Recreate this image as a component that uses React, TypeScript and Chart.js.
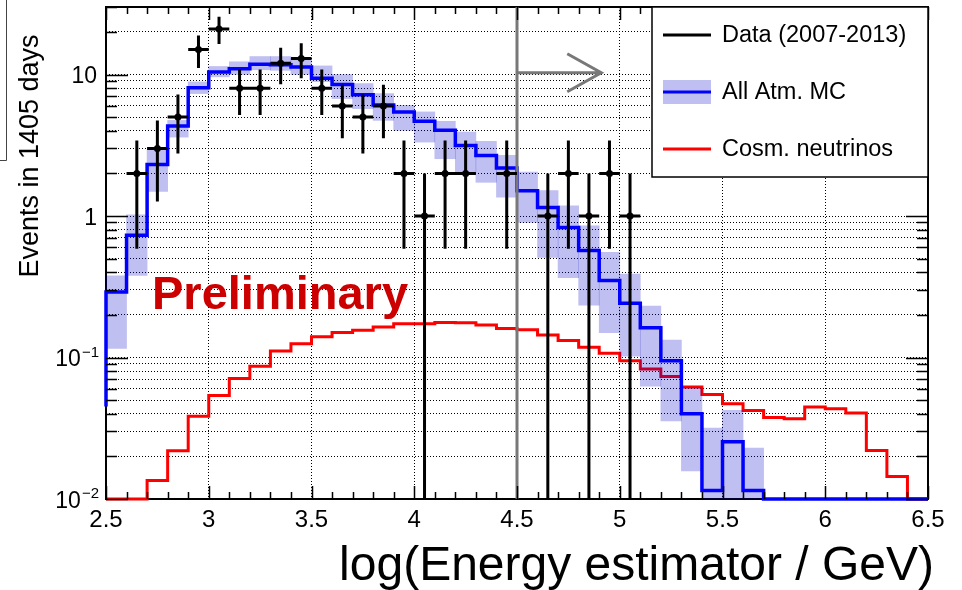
import React, { useEffect, useRef } from 'react';
import { Chart, registerables } from 'chart.js';

Chart.register(...registerables);

// ---------- data ----------
const binEdges = [
  2.5, 2.6, 2.7, 2.8, 2.9, 3.0, 3.1, 3.2, 3.3, 3.4,
  3.5, 3.6, 3.7, 3.8, 3.9, 4.0, 4.1, 4.2, 4.3, 4.4,
  4.5, 4.6, 4.7, 4.8, 4.9, 5.0, 5.1, 5.2, 5.3, 5.4,
  5.5, 5.6, 5.7, 5.8, 5.9, 6.0, 6.1, 6.2, 6.3, 6.4, 6.5,
];

const mcStartValue = 0.045;
const mcAtm = [
  0.29, 0.73, 2.31, 4.33, 8.05, 10.4, 11.0, 11.8, 11.7, 11.3,
  9.4, 8.5, 7.2, 6.1, 5.44, 4.67, 4.03, 3.15, 2.68, 2.18,
  1.51, 1.15, 0.83, 0.57, 0.35, 0.242, 0.162, 0.095, 0.04, 0.0115,
  0.0254, 0.0115, 0.01, 0.01, 0.01, 0.01, 0.01, 0.01, 0.01, 0.01,
];
const mcAtmLow = [
  0.116, 0.38, 1.49, 3.61, 7.33, 9.63, 10.0, 10.8, 10.7, 10.0,
  8.9, 6.76, 5.74, 4.74, 4.03, 3.33, 2.54, 2.04, 1.73, 1.36,
  0.9, 0.51, 0.367, 0.234, 0.15, 0.102, 0.0626, 0.0357, 0.0158, 0.01,
  0.01, 0.01, null, null, null, null, null, null, null, null,
];
const mcAtmHigh = [
  0.378, 1.02, 2.94, 4.74, 8.87, 11.4, 12.3, 13.4, 13.4, 13.0,
  11.5, 10.0, 8.63, 7.33, 6.06, 5.44, 4.67, 3.92, 3.37, 2.68,
  2.04, 1.51, 1.18, 0.853, 0.553, 0.388, 0.231, 0.133, 0.061, 0.0317,
  0.0423, 0.0229, null, null, null, null, null, null, null, null,
];
const cosmic = [
  0.01, 0.01, 0.0135, 0.0219, 0.0384, 0.0538, 0.071, 0.0867, 0.111, 0.125,
  0.14, 0.15, 0.156, 0.164, 0.173, 0.173, 0.177, 0.176, 0.17, 0.16,
  0.157, 0.144, 0.132, 0.118, 0.107, 0.095, 0.083, 0.0733, 0.062, 0.0547,
  0.0472, 0.0423, 0.0377, 0.0369, 0.0447, 0.0435, 0.0405, 0.022, 0.0144, 0.01,
];

const dataCenters = [
  2.65, 2.75, 2.85, 2.95, 3.05, 3.15, 3.25, 3.35, 3.45, 3.55, 3.65, 3.75,
  3.85, 3.95, 4.05, 4.15, 4.25, 4.45, 4.65, 4.75, 4.85, 4.95, 5.05,
];
const dataCounts = [
  2, 3, 5, 15, 21, 8, 8, 12, 13, 8, 6, 5,
  6, 2, 1, 2, 2, 2, 1, 2, 1, 2, 1,
];
const dataHalfWidth = 0.05;

const xTickValues = [2.5, 3, 3.5, 4, 4.5, 5, 5.5, 6, 6.5];
const xTickLabels = ['2.5', '3', '3.5', '4', '4.5', '5', '5.5', '6', '6.5'];
const yTickValues = [0.01, 0.1, 1, 10];
const yTickBases = ['10', '10', '1', '10'];
const yTickExps = ['\u22122', '\u22121', '', ''];
const yGridValues = [
  0.01, 0.02, 0.03, 0.04, 0.05, 0.06, 0.07, 0.08, 0.09,
  0.1, 0.2, 0.3, 0.4, 0.5, 0.6, 0.7, 0.8, 0.9,
  1, 2, 3, 4, 5, 6, 7, 8, 9,
  10, 20, 30,
];

const legendLabels = ['Data (2007-2013)', 'All Atm. MC', 'Cosm. neutrinos'];
const xTitle = 'log(Energy estimator / GeV)';
const yTitle = 'Events in 1405 days';
const stampText = 'Preliminary';
const cutValue = 4.5;
const arrowEnd = 4.91;
const arrowY = 10.3;

const FONT = "'Liberation Sans', Arial, Helvetica, sans-serif";
const BAND = 'rgba(0,0,200,0.25)';

const stepPoints = (vals: number[]) => {
  const pts = vals.map((v, i) => ({ x: binEdges[i], y: v }));
  pts.push({ x: binEdges[binEdges.length - 1], y: vals[vals.length - 1] });
  return pts;
};

const near = (a: number, b: number) => Math.abs(a - b) < 1e-9 * Math.max(1, Math.abs(b));

const decor = {
  id: 'decor',
  beforeDraw(chart: any) {
    const { ctx } = chart;
    ctx.save();
    ctx.fillStyle = '#fff';
    ctx.fillRect(0, 0, chart.width, chart.height);
    ctx.restore();
  },
  beforeDatasetsDraw(chart: any) {
    const { ctx, chartArea: ca } = chart;
    ctx.save();
    ctx.strokeStyle = '#000';
    ctx.lineWidth = 2;
    ctx.strokeRect(ca.left, ca.top, ca.right - ca.left, ca.bottom - ca.top);
    ctx.restore();
  },
  afterDatasetsDraw(chart: any) {
    const { ctx, chartArea: ca, scales } = chart;
    const x = scales.x;
    const y = scales.y;
    ctx.save();
    ctx.beginPath();
    ctx.rect(ca.left, ca.top, ca.right - ca.left, ca.bottom - ca.top);
    ctx.clip();
    // cut line + arrow
    ctx.strokeStyle = '#787878';
    ctx.lineWidth = 3;
    const xc = x.getPixelForValue(cutValue);
    ctx.beginPath();
    ctx.moveTo(xc, ca.top);
    ctx.lineTo(xc, ca.bottom);
    const ay = y.getPixelForValue(arrowY);
    const ax = x.getPixelForValue(arrowEnd);
    ctx.moveTo(xc, ay);
    ctx.lineTo(ax, ay);
    ctx.moveTo(ax - 34, ay - 19);
    ctx.lineTo(ax, ay);
    ctx.lineTo(ax - 34, ay + 19);
    ctx.stroke();
    // data error bars
    ctx.strokeStyle = '#000';
    ctx.lineWidth = 3;
    ctx.beginPath();
    dataCenters.forEach((c, i) => {
      const n = dataCounts[i];
      const e = Math.sqrt(n);
      const px = x.getPixelForValue(c);
      const py = y.getPixelForValue(n);
      const top = y.getPixelForValue(n + e);
      const bot = n - e > y.min ? y.getPixelForValue(n - e) : ca.bottom;
      ctx.moveTo(px, top);
      ctx.lineTo(px, bot);
      ctx.moveTo(x.getPixelForValue(c - dataHalfWidth), py);
      ctx.lineTo(x.getPixelForValue(c + dataHalfWidth), py);
    });
    ctx.stroke();
    // stamp
    ctx.fillStyle = '#cc0000';
    ctx.font = `bold 47px ${FONT}`;
    ctx.textAlign = 'left';
    ctx.textBaseline = 'alphabetic';
    ctx.fillText(stampText, 152, 309);
    ctx.restore();
  },
  afterDraw(chart: any) {
    const { ctx, chartArea: ca, scales } = chart;
    const x = scales.x;
    const y = scales.y;
    ctx.save();
    // inside ticks
    ctx.strokeStyle = '#000';
    ctx.lineWidth = 1.5;
    ctx.beginPath();
    binEdges.forEach((v) => {
      const major = xTickValues.some((t) => near(t, v));
      const len = major ? 13 : 7;
      const px = Math.round(x.getPixelForValue(v)) + 0.5;
      ctx.moveTo(px, ca.bottom);
      ctx.lineTo(px, ca.bottom - len);
      ctx.moveTo(px, ca.top);
      ctx.lineTo(px, ca.top + len);
    });
    yGridValues.forEach((v) => {
      const major = yTickValues.some((t) => near(t, v));
      const len = major ? 22 : 11;
      const py = Math.round(y.getPixelForValue(v)) + 0.5;
      ctx.moveTo(ca.left, py);
      ctx.lineTo(ca.left + len, py);
      ctx.moveTo(ca.right, py);
      ctx.lineTo(ca.right - len, py);
    });
    ctx.stroke();

    // y tick labels with superscript exponents
    ctx.fillStyle = '#000';
    ctx.textBaseline = 'alphabetic';
    ctx.textAlign = 'right';
    yTickValues.forEach((v, i) => {
      const py = y.getPixelForValue(v);
      const exp = yTickExps[i];
      if (exp) {
        ctx.font = `15px ${FONT}`;
        const ew = ctx.measureText(exp).width;
        ctx.fillText(exp, 99, py - 1);
        ctx.font = `23px ${FONT}`;
        ctx.fillText(yTickBases[i], 99 - ew - 1, py + 8.5);
      } else {
        ctx.font = `23px ${FONT}`;
        ctx.fillText(yTickBases[i], 97, py + 8.5);
      }
    });

    // legend
    const lx0 = 652, ly0 = ca.top, lx1 = ca.right, ly1 = 177;
    ctx.fillStyle = '#fff';
    ctx.fillRect(lx0, ly0, lx1 - lx0, ly1 - ly0);
    ctx.lineWidth = 1.5;
    ctx.strokeStyle = '#000';
    ctx.strokeRect(lx0, ly0, lx1 - lx0, ly1 - ly0);
    const rows = [35, 92, 149];
    ctx.lineWidth = 3;
    ctx.strokeStyle = '#000';
    ctx.beginPath();
    ctx.moveTo(663, rows[0]);
    ctx.lineTo(711, rows[0]);
    ctx.stroke();
    ctx.fillStyle = BAND;
    ctx.fillRect(663, rows[1] - 12, 48, 24);
    ctx.strokeStyle = '#0000ff';
    ctx.beginPath();
    ctx.moveTo(663, rows[1]);
    ctx.lineTo(711, rows[1]);
    ctx.stroke();
    ctx.strokeStyle = '#ff0000';
    ctx.beginPath();
    ctx.moveTo(663, rows[2]);
    ctx.lineTo(711, rows[2]);
    ctx.stroke();
    ctx.fillStyle = '#000';
    ctx.font = `23.5px ${FONT}`;
    ctx.textAlign = 'left';
    ctx.textBaseline = 'middle';
    legendLabels.forEach((t, i) => ctx.fillText(t, 722, rows[i] + 1));

    // axis titles
    ctx.font = `48px ${FONT}`;
    ctx.textAlign = 'right';
    ctx.textBaseline = 'alphabetic';
    ctx.fillText(xTitle, 934, 580);
    ctx.save();
    ctx.translate(38, 156);
    ctx.rotate(-Math.PI / 2);
    ctx.font = `27px ${FONT}`;
    ctx.textAlign = 'center';
    ctx.fillText(yTitle, 0, 0);
    ctx.restore();

    // cropped frame remnant at top-left
    ctx.strokeStyle = '#444';
    ctx.lineWidth = 1;
    ctx.beginPath();
    ctx.moveTo(6.5, 0);
    ctx.lineTo(6.5, 160.5);
    ctx.lineTo(0, 160.5);
    ctx.stroke();
    ctx.restore();
  },
};

export default function App() {
  const ref = useRef<HTMLCanvasElement | null>(null);

  useEffect(() => {
    if (!ref.current) return;
    const bandData = binEdges.slice(0, -1)
      .map((e, i) => ({ x: e + 0.05, lo: mcAtmLow[i], hi: mcAtmHigh[i] }))
      .filter((d) => d.lo !== null && d.hi !== null)
      .map((d) => ({ x: d.x, y: [d.lo, d.hi] }));

    const chart = new Chart(ref.current, {
      type: 'line',
      data: {
        datasets: [
          {
            type: 'line',
            label: legendLabels[0],
            data: dataCenters.map((c, i) => ({ x: c, y: dataCounts[i] })),
            showLine: false,
            pointRadius: 3.5,
            pointBackgroundColor: '#000',
            pointBorderColor: '#000',
            pointBorderWidth: 0,
            order: 0,
          },
          {
            type: 'line',
            label: legendLabels[1],
            data: [{ x: binEdges[0], y: mcStartValue }, ...stepPoints(mcAtm)],
            borderColor: '#0000ff',
            borderWidth: 3.5,
            stepped: 'before',
            pointRadius: 0,
            fill: false,
            clip: 4,
            order: 1,
          },
          {
            type: 'bar',
            label: 'MC uncertainty',
            data: bandData as any,
            backgroundColor: BAND,
            borderWidth: 0,
            barPercentage: 1,
            categoryPercentage: 1,
            order: 2,
          },
          {
            type: 'line',
            label: legendLabels[2],
            data: stepPoints(cosmic),
            borderColor: '#ff0000',
            borderWidth: 3,
            stepped: 'before',
            pointRadius: 0,
            fill: false,
            clip: 4,
            order: 3,
          },
        ] as any,
      },
      options: {
        responsive: false,
        animation: false,
        devicePixelRatio: 1,
        events: [],
        layout: { padding: { left: 0, top: 7, right: 34, bottom: 0 } },
        plugins: { legend: { display: false }, tooltip: { enabled: false }, title: { display: false } },
        scales: {
          x: {
            type: 'linear',
            min: 2.5,
            max: 6.5,
            offset: false,
            afterBuildTicks: (s: any) => { s.ticks = xTickValues.map((v) => ({ value: v })); },
            afterFit: (s: any) => { s.height = 91; s.paddingLeft = 0; s.paddingRight = 0; },
            ticks: {
              autoSkip: false,
              maxRotation: 0,
              padding: 7,
              color: '#000',
              font: { family: FONT, size: 24 },
              callback: (v: any) => {
                const i = xTickValues.findIndex((t) => near(t, Number(v)));
                return i >= 0 ? xTickLabels[i] : '';
              },
            },
            grid: { color: '#000', lineWidth: 1, drawTicks: false, offset: false },
            border: { display: false, dash: [1, 2] },
          },
          y: {
            type: 'logarithmic',
            min: 0.01,
            max: 30,
            afterBuildTicks: (s: any) => { s.ticks = yGridValues.map((v) => ({ value: v })); },
            afterFit: (s: any) => { s.width = 106; s.paddingTop = 0; s.paddingBottom = 0; },
            ticks: { display: false, autoSkip: false },
            grid: { color: '#000', lineWidth: 1, drawTicks: false },
            border: { display: false, dash: [1, 2] },
          },
        },
      } as any,
      plugins: [decor],
    });
    return () => chart.destroy();
  }, []);

  return (
    <div style={{ position: 'fixed', left: 0, top: 0, width: 962, height: 590, background: '#fff' }}>
      <canvas ref={ref} width={962} height={590} style={{ display: 'block' }} />
    </div>
  );
}
